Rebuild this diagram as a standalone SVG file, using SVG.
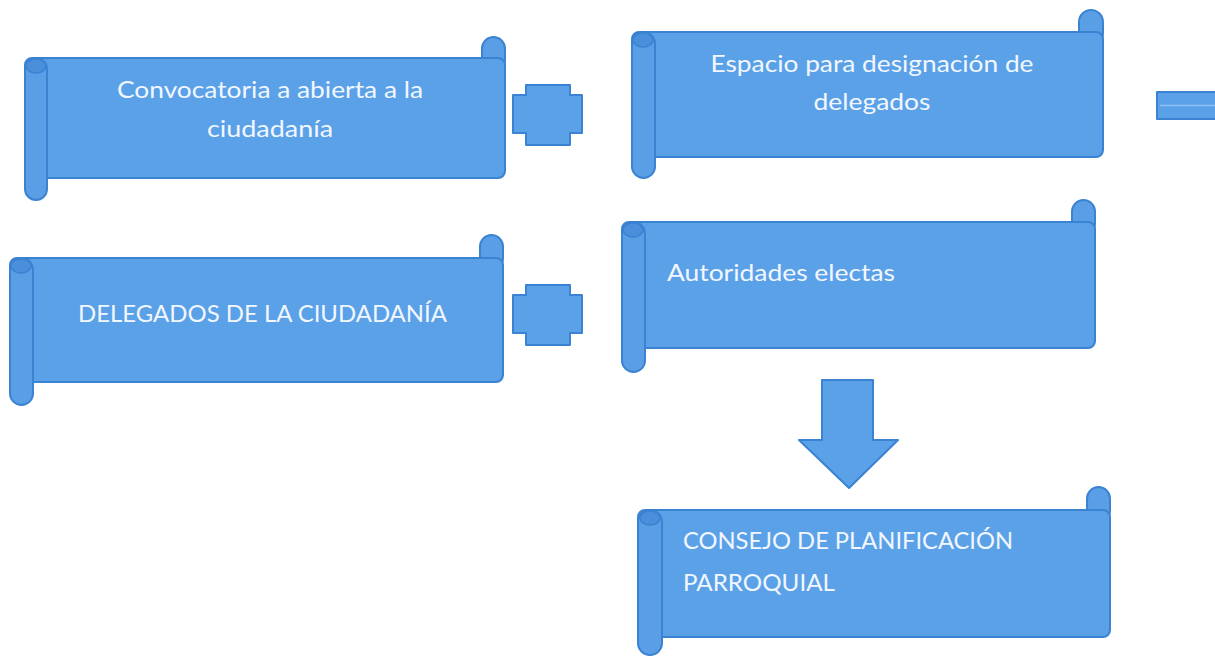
<svg xmlns="http://www.w3.org/2000/svg" width="1215" height="656" viewBox="0 0 1215 656">
<style>
.sh{fill:#5ba1e8;stroke:#3a82d2;stroke-width:2;stroke-linejoin:round}
.roll{fill:#5a9fe6;stroke:#3a82d2;stroke-width:2}
.curl{fill:#4b8fdb;stroke:#3a82d2;stroke-width:1.5}
.t{font-family:Lato,"Open Sans",sans-serif;font-size:23px;fill:#f2f7ff}
.tc{text-anchor:middle}
</style>
<rect width="1215" height="656" fill="#ffffff"/>
<g id="node1">
<rect class="roll" x="482" y="37" width="23" height="35" rx="11.5"/>
<rect class="sh" x="25" y="58" width="480" height="120" rx="7"/>
<rect class="roll" x="25" y="58" width="22" height="142" rx="11"/>
<ellipse class="curl" cx="36" cy="66" rx="10" ry="7"/>
<text class="t tc" x="270" y="98" textLength="306" lengthAdjust="spacingAndGlyphs">Convocatoria a abierta a la</text>
<text class="t tc" x="270" y="137" textLength="126" lengthAdjust="spacingAndGlyphs">ciudadanía</text>
</g>
<g id="node2">
<rect class="roll" x="1079" y="10" width="24" height="35" rx="12"/>
<rect class="sh" x="632" y="32" width="471" height="125" rx="7"/>
<rect class="roll" x="632" y="32" width="23" height="146" rx="11.5"/>
<ellipse class="curl" cx="643" cy="40" rx="10" ry="7"/>
<text class="t tc" x="872" y="72" textLength="323" lengthAdjust="spacingAndGlyphs">Espacio para designación de</text>
<text class="t tc" x="872" y="110" textLength="117" lengthAdjust="spacingAndGlyphs">delegados</text>
</g>
<g id="node3">
<rect class="roll" x="480" y="235" width="23" height="35" rx="11.5"/>
<rect class="sh" x="10" y="258" width="493" height="124" rx="7"/>
<rect class="roll" x="10" y="258" width="23" height="147" rx="11.5"/>
<ellipse class="curl" cx="21" cy="266" rx="10" ry="7"/>
<text class="t" x="78" y="322" textLength="369" lengthAdjust="spacingAndGlyphs">DELEGADOS DE LA CIUDADANÍA</text>
</g>
<g id="node4">
<rect class="roll" x="1072" y="200" width="23" height="35" rx="11.5"/>
<rect class="sh" x="622" y="222" width="473" height="126" rx="7"/>
<rect class="roll" x="622" y="222" width="23" height="150" rx="11.5"/>
<ellipse class="curl" cx="633" cy="230" rx="10" ry="7"/>
<text class="t" x="667" y="281" textLength="228" lengthAdjust="spacingAndGlyphs">Autoridades electas</text>
</g>
<g id="node5">
<rect class="roll" x="1087" y="487" width="23" height="35" rx="11.5"/>
<rect class="sh" x="638" y="510" width="472" height="127" rx="7"/>
<rect class="roll" x="638" y="510" width="24" height="145" rx="12"/>
<ellipse class="curl" cx="650" cy="518" rx="10" ry="7"/>
<text class="t" x="683" y="549" textLength="330" lengthAdjust="spacingAndGlyphs">CONSEJO DE PLANIFICACIÓN</text>
<text class="t" x="683" y="591" textLength="152" lengthAdjust="spacingAndGlyphs">PARROQUIAL</text>
</g>
<g id="connectors">
<polygon class="sh" points="526,85 570,85 570,95 582,95 582,133 570,133 570,145 526,145 526,133 513,133 513,95 526,95"/>
<polygon class="sh" points="526,285 570,285 570,295 582,295 582,333 570,333 570,345 526,345 526,333 513,333 513,295 526,295"/>
<rect class="sh" x="1157" y="92" width="60" height="27"/>
<line x1="1160" y1="105.5" x2="1215" y2="105.5" stroke="#8fc0f2" stroke-width="1.5"/>
<polygon class="sh" points="822,380 873,380 873,440 898,440 849,488 799,440 822,440"/>
</g>
</svg>
